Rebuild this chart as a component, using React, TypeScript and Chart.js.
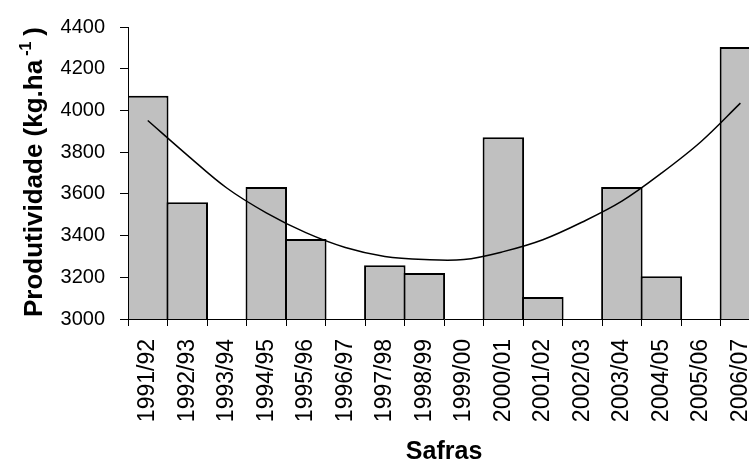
import { useEffect, useRef } from 'react';
import { Chart, registerables } from 'chart.js';

Chart.register(...registerables);

const categories = [
  '1991/92', '1992/93', '1993/94', '1994/95', '1995/96', '1996/97', '1997/98', '1998/99',
  '1999/00', '2000/01', '2001/02', '2002/03', '2003/04', '2004/05', '2005/06', '2006/07',
];
const productivity: (number | null)[] = [
  4070, 3560, null, 3633, 3383, null, 3258, 3220, null, 3872, 3106, null, 3633, 3205, null, 4304,
];
const trend = [
  3952, 3786, 3628, 3509, 3414, 3343, 3300, 3285, 3285, 3323, 3380, 3465, 3565, 3699, 3850, 4035,
];
const yMin = 3000;
const yMax = 4400;
const yStep = 200;
const xTitle = 'Safras';
const yTitleMain = 'Produtividade (kg.ha';
const yTitleSup = '-1';
const yTitleEnd = ')';

const FONT = 'Liberation Sans, Arial, Helvetica, sans-serif';

const yTitlePlugin = {
  id: 'yTitle',
  afterDraw(chart: Chart) {
    const { ctx, chartArea } = chart;
    const mainFont = `bold 26px ${FONT}`;
    const supFont = `bold 16px ${FONT}`;
    ctx.save();
    ctx.font = mainFont;
    const wMain = ctx.measureText(yTitleMain).width;
    const wEnd = ctx.measureText(yTitleEnd).width;
    ctx.font = supFont;
    const wSup = ctx.measureText(yTitleSup).width;
    const gap1 = 4;
    const gap2 = 6;
    const total = wMain + gap1 + wSup + gap2 + wEnd;
    const cy = (chartArea.top + chartArea.bottom) / 2 - 1;
    ctx.translate(42, cy);
    ctx.rotate(-Math.PI / 2);
    ctx.fillStyle = '#000';
    ctx.textBaseline = 'alphabetic';
    ctx.textAlign = 'left';
    let x = -total / 2;
    ctx.font = mainFont;
    ctx.fillText(yTitleMain, x, 0);
    x += wMain + gap1;
    ctx.font = supFont;
    ctx.fillText(yTitleSup, x, -11);
    x += wSup + gap2;
    ctx.font = mainFont;
    ctx.fillText(yTitleEnd, x, 0);
    ctx.restore();
  },
};

export default function App() {
  const ref = useRef<HTMLCanvasElement | null>(null);

  useEffect(() => {
    if (!ref.current) return;
    const chart = new Chart(ref.current, {
      type: 'bar',
      data: {
        labels: categories,
        datasets: [
          {
            type: 'line',
            label: 'Tendência',
            data: trend,
            borderColor: '#000',
            borderWidth: 1.5,
            pointRadius: 0,
            tension: 0.35,
            fill: false,
            order: 0,
          } as any,
          {
            type: 'bar',
            label: 'Produtividade',
            data: productivity,
            backgroundColor: '#C0C0C0',
            borderColor: '#000',
            borderWidth: 2,
            borderSkipped: false,
            barPercentage: 1.05,
            categoryPercentage: 1,
            order: 1,
          } as any,
        ],
      },
      options: {
        responsive: false,
        animation: false,
        layout: { padding: { top: 24, right: 0, bottom: 0, left: 0 } },
        plugins: {
          legend: { display: false },
          tooltip: { enabled: false },
        },
        scales: {
          x: {
            offset: true,
            grid: {
              offset: true,
              drawOnChartArea: false,
              drawTicks: true,
              tickLength: 7,
              color: '#000',
            },
            border: { display: true, color: '#000', width: 1 },
            ticks: {
              color: '#000',
              font: { family: FONT, size: 23 },
              minRotation: 90,
              maxRotation: 90,
              autoSkip: false,
              padding: 13,
            },
            title: {
              display: true,
              text: xTitle,
              color: '#000',
              font: { family: FONT, size: 25, weight: 'bold', lineHeight: 1 },
              padding: { top: 0, bottom: -3 },
            },
            afterFit(scale: any) {
              scale.height = 143;
            },
          },
          y: {
            min: yMin,
            max: yMax,
            grid: {
              drawOnChartArea: false,
              drawTicks: true,
              tickLength: 8,
              color: '#000',
            },
            border: { display: true, color: '#000', width: 1 },
            ticks: {
              stepSize: yStep,
              color: '#000',
              font: { family: FONT, size: 20 },
              padding: 15,
              autoSkip: false,
              callback: (v: any) => String(v),
            },
            afterFit(scale: any) {
              scale.width = 128;
            },
          },
        },
      },
      plugins: [yTitlePlugin],
    });
    return () => chart.destroy();
  }, []);

  return (
    <div
      style={{
        position: 'fixed',
        left: 0,
        top: 0,
        width: 749,
        height: 462,
        overflow: 'hidden',
        background: '#fff',
      }}
    >
      <canvas ref={ref} width={781} height={462} style={{ display: 'block' }} />
    </div>
  );
}
